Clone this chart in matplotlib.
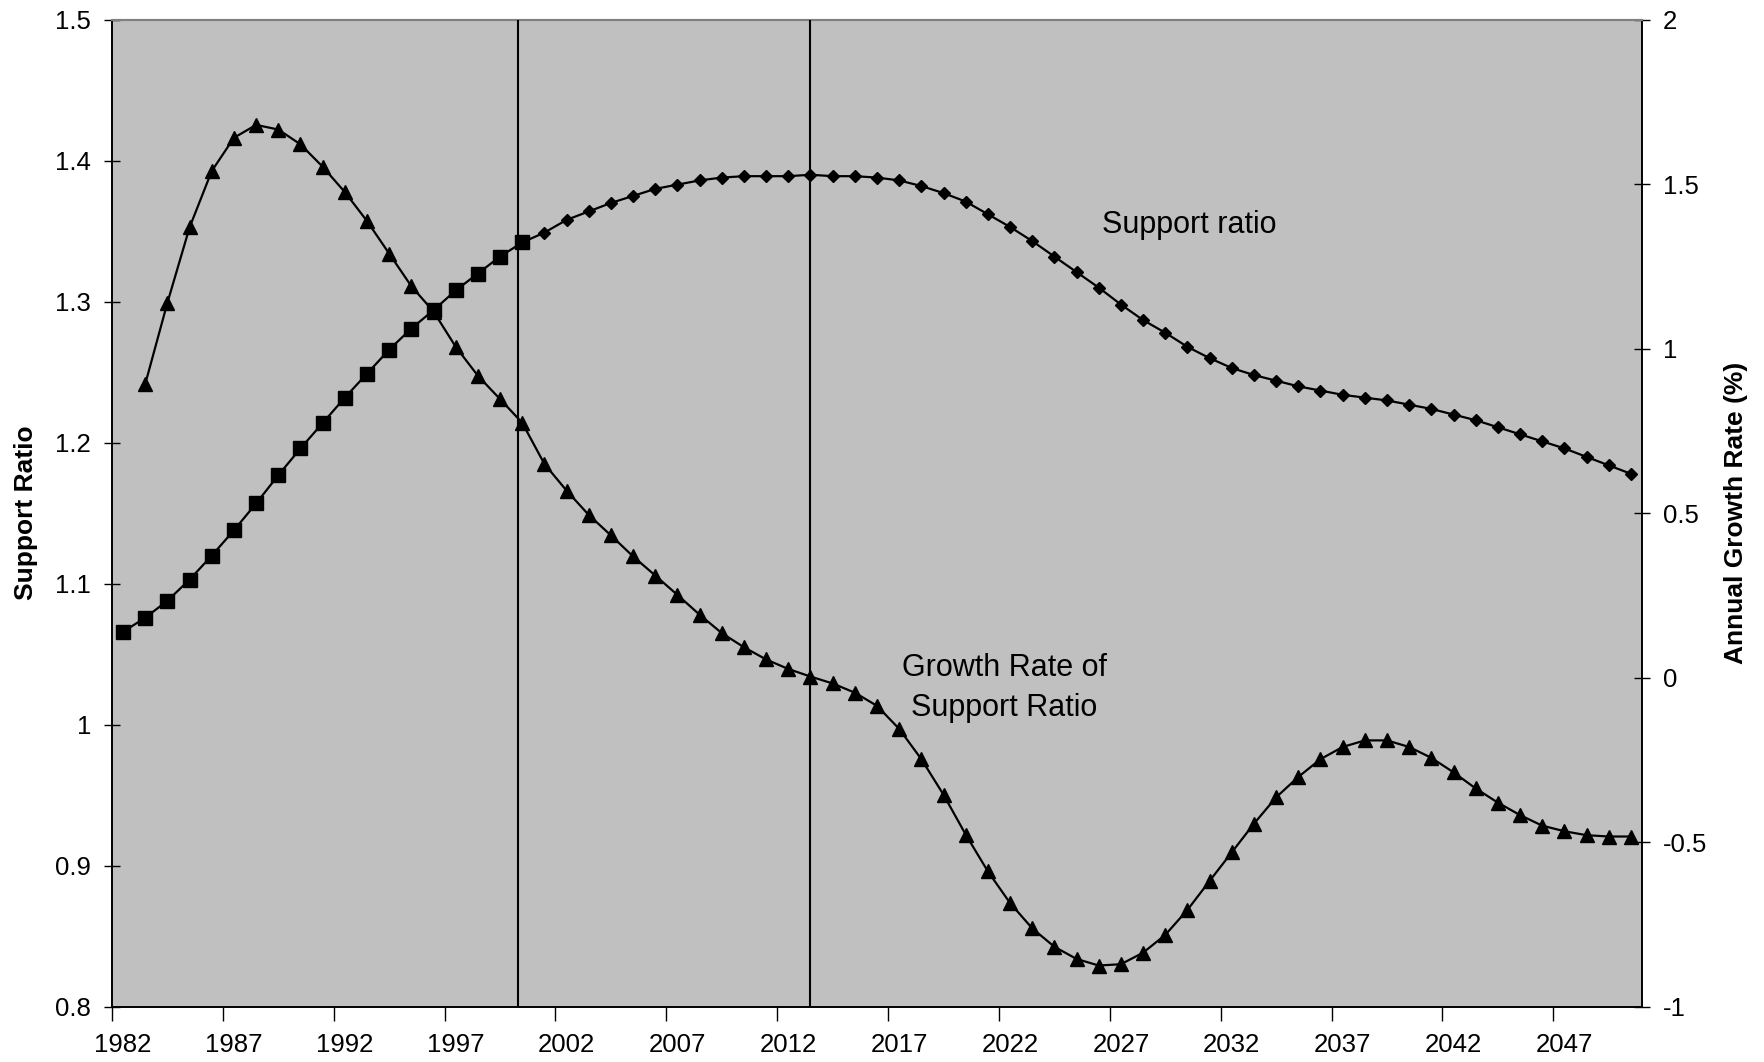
import matplotlib
matplotlib.use("Agg")
import matplotlib.pyplot as plt
from matplotlib.ticker import FixedLocator, FixedFormatter, NullFormatter

plt.rcParams['font.family'] = ['Liberation Sans', 'DejaVu Sans']
plt.rcParams['axes.unicode_minus'] = False

# categories
years = list(range(1982, 2051))

# support ratio, 1982-2050 (squares up to 2000, diamonds after)
support = [1.066, 1.076, 1.088, 1.103, 1.120, 1.138, 1.157, 1.177, 1.196, 1.214,
           1.232, 1.249, 1.266, 1.281, 1.294, 1.308, 1.320, 1.332, 1.342, 1.349,
           1.358, 1.364, 1.370, 1.375, 1.380, 1.383, 1.386, 1.388, 1.389, 1.389,
           1.389, 1.390, 1.389, 1.389, 1.388, 1.386, 1.382, 1.377, 1.371, 1.362,
           1.353, 1.343, 1.332, 1.321, 1.310, 1.298, 1.287, 1.278, 1.268, 1.260,
           1.253, 1.248, 1.244, 1.240, 1.237, 1.234, 1.232, 1.230, 1.227, 1.224,
           1.220, 1.216, 1.211, 1.206, 1.201, 1.196, 1.190, 1.184, 1.178]
split_year = 2000

# annual growth rate of support ratio (%), 1983-2050
growth_years = list(range(1983, 2051))
growth = [0.893, 1.140, 1.369, 1.540, 1.641, 1.680, 1.666, 1.621, 1.553, 1.476,
          1.388, 1.289, 1.190, 1.113, 1.006, 0.918, 0.847, 0.775, 0.650, 0.569,
          0.495, 0.433, 0.369, 0.311, 0.252, 0.192, 0.136, 0.093, 0.056, 0.027,
          0.004, -0.017, -0.045, -0.085, -0.155, -0.247, -0.355, -0.476, -0.588, -0.684,
          -0.761, -0.817, -0.854, -0.874, -0.870, -0.835, -0.781, -0.705, -0.617, -0.530,
          -0.443, -0.363, -0.301, -0.247, -0.210, -0.190, -0.190, -0.210, -0.243, -0.287,
          -0.336, -0.379, -0.417, -0.449, -0.466, -0.478, -0.482, -0.482]

# vertical marker lines
vlines = [1999.8, 2013.0]

# tick labels
xlabels = [str(y) for y in range(1982, 2051, 5)]
left_ticks = [0.8, 0.9, 1.0, 1.1, 1.2, 1.3, 1.4, 1.5]
left_labels = ['0.8', '0.9', '1', '1.1', '1.2', '1.3', '1.4', '1.5']
right_ticks = [-1, -0.5, 0, 0.5, 1, 1.5, 2]
right_labels = ['-1', '-0.5', '0', '0.5', '1', '1.5', '2']

W, H = 1765, 1062
fig = plt.figure(figsize=(W / 100, H / 100), dpi=100)
L, R, T, B = 112, 1642, 19.6, 1007
ax = fig.add_axes([L / W, 1 - B / H, (R - L) / W, (B - T) / H])
ax.set_facecolor('#C0C0C0')
ax2 = ax.twinx()

# support ratio
sq = [i for i, y in enumerate(years) if y <= split_year]
dm = [i for i, y in enumerate(years) if y > split_year]
ax.plot(years, support, '-', color='black', lw=1.6, zorder=3)
ax.plot([years[i] for i in sq], [support[i] for i in sq], 's', color='black', ms=9.5, zorder=4)
ax.plot([years[i] for i in dm], [support[i] for i in dm], 'D', color='black', ms=6.5, zorder=4)

# growth rate
ax2.plot(growth_years, growth, '-^', color='black', lw=1.6, ms=10.5, zorder=4)

for v in vlines:
    ax2.axvline(v, color='black', lw=1.5, zorder=5)

ax.set_xlim(1981.5, 2050.5)
ax.set_ylim(0.8, 1.5)
ax2.set_ylim(-1, 2)

# x axis: tick marks between categories, labels centred on categories
ax.xaxis.set_major_locator(FixedLocator([y - 0.5 for y in range(1982, 2051, 5)]))
ax.xaxis.set_major_formatter(NullFormatter())
ax.xaxis.set_minor_locator(FixedLocator(list(range(1982, 2051, 5))))
ax.xaxis.set_minor_formatter(FixedFormatter(xlabels))
ax.tick_params(axis='x', which='major', direction='out', length=10, width=1)
ax.tick_params(axis='x', which='minor', length=0, pad=19, labelsize=18.5)

ax.yaxis.set_major_locator(FixedLocator(left_ticks))
ax.yaxis.set_major_formatter(FixedFormatter(left_labels))
ax.tick_params(axis='y', direction='inout', length=12, width=1, pad=9, labelsize=18.5)
ax2.yaxis.set_major_locator(FixedLocator(right_ticks))
ax2.yaxis.set_major_formatter(FixedFormatter(right_labels))
ax2.tick_params(axis='y', direction='inout', length=12, width=1, pad=9, labelsize=18.5)

for a in (ax, ax2):
    a.spines['top'].set_color('#808080')
    a.spines['top'].set_linewidth(1.5)
    for s in ('left', 'bottom', 'right'):
        a.spines[s].set_color('black')
        a.spines[s].set_linewidth(1.2)

ax.text(2030.1, 1.3545, 'Support ratio', fontsize=22, ha='center', va='center', zorder=6)
ax.text(2021.75, 1.026, 'Growth Rate of\nSupport Ratio', fontsize=22, ha='center', va='center',
        linespacing=1.42, zorder=6)

fig.text(26 / W, 1 - 513 / H, 'Support Ratio', rotation=90, ha='center', va='center',
         fontsize=19, fontweight='bold', family=['Liberation Sans Narrow', 'Liberation Sans'])
fig.text(1736 / W, 1 - 513 / H, 'Annual Growth Rate (%)', rotation=90, ha='center', va='center',
         fontsize=19, fontweight='bold', family=['Liberation Sans Narrow', 'Liberation Sans'])

fig.savefig('out.png', dpi=100)
